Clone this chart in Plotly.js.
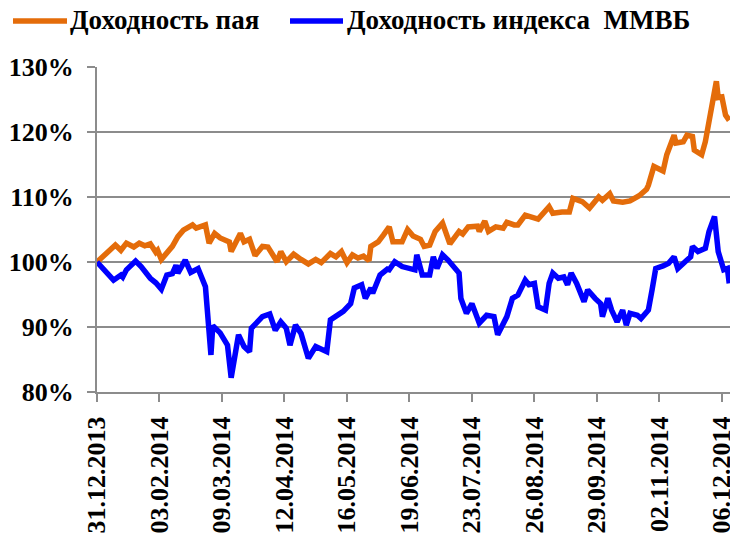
<!DOCTYPE html>
<html>
<head>
<meta charset="utf-8">
<script src="https://cdn.plot.ly/plotly-3.0.1.min.js"></script>
<style>
html,body{margin:0;padding:0;background:#fff;overflow:hidden;}
#chart{width:730px;height:537px;}
</style>
</head>
<body>
<div id="chart"></div>
<script>
// Доходность пая
const datesPai = ["2013-12-31","2014-01-06","2014-01-10","2014-01-13","2014-01-16","2014-01-20","2014-01-23","2014-01-26","2014-01-29","2014-02-01","2014-02-02","2014-02-04","2014-02-07","2014-02-10","2014-02-13","2014-02-16","2014-02-21","2014-02-23","2014-02-28","2014-03-02","2014-03-05","2014-03-08","2014-03-13","2014-03-14","2014-03-19","2014-03-21","2014-03-24","2014-03-27","2014-03-31","2014-04-03","2014-04-08","2014-04-10","2014-04-13","2014-04-17","2014-04-21","2014-04-25","2014-04-29","2014-05-02","2014-05-07","2014-05-10","2014-05-13","2014-05-16","2014-05-19","2014-05-22","2014-05-25","2014-05-28","2014-05-29","2014-06-02","2014-06-05","2014-06-08","2014-06-10","2014-06-15","2014-06-18","2014-06-21","2014-06-25","2014-06-27","2014-06-30","2014-07-03","2014-07-07","2014-07-11","2014-07-16","2014-07-18","2014-07-21","2014-07-26","2014-07-27","2014-07-30","2014-08-01","2014-08-05","2014-08-09","2014-08-11","2014-08-15","2014-08-17","2014-08-21","2014-08-25","2014-08-28","2014-09-03","2014-09-05","2014-09-10","2014-09-14","2014-09-16","2014-09-21","2014-09-25","2014-09-30","2014-10-02","2014-10-06","2014-10-08","2014-10-13","2014-10-17","2014-10-22","2014-10-26","2014-10-27","2014-10-30","2014-11-04","2014-11-06","2014-11-10","2014-11-11","2014-11-15","2014-11-17","2014-11-20","2014-11-21","2014-11-25","2014-11-27","2014-11-29","2014-12-01","2014-12-03","2014-12-04","2014-12-06","2014-12-08","2014-12-10"];
const valuesPai = [100,101.4,102.6,101.8,102.9,102.3,102.9,102.5,102.8,101.5,101.8,100.4,101.4,102.4,103.9,104.9,105.7,105.2,105.7,102.9,104.4,103.7,103.1,101.6,104.4,103.1,103.5,101.0,102.4,102.3,100.05,101.6,100.05,101.2,100.4,99.7,100.4,99.9,101.3,100.8,101.6,99.9,101.1,100.6,100.9,100.2,102.4,103.1,104.2,105.4,103.1,103.1,105.0,104.0,103.5,102.4,102.6,104.7,106.0,102.8,104.7,104.3,105.4,105.5,104.7,106.3,104.7,105.4,105.2,106.1,105.7,105.7,107.2,106.9,106.6,108.5,107.5,107.7,107.7,109.8,109.3,108.3,110.0,109.5,110.5,109.4,109.2,109.4,110.2,111.2,111.8,114.7,114.0,116.5,119.5,118.3,118.5,119.5,119.3,117.2,116.5,118.5,121.6,125.4,127.8,125.3,125.4,122.6,121.8];

// Доходность индекса ММВБ
const datesIndex = ["2013-12-31","2014-01-09","2014-01-13","2014-01-14","2014-01-16","2014-01-21","2014-01-24","2014-01-29","2014-02-01","2014-02-04","2014-02-07","2014-02-10","2014-02-12","2014-02-13","2014-02-17","2014-02-20","2014-02-24","2014-02-28","2014-03-03","2014-03-04","2014-03-08","2014-03-12","2014-03-14","2014-03-18","2014-03-21","2014-03-24","2014-03-25","2014-03-30","2014-03-31","2014-04-04","2014-04-07","2014-04-10","2014-04-13","2014-04-15","2014-04-18","2014-04-21","2014-04-25","2014-04-29","2014-05-02","2014-05-05","2014-05-07","2014-05-10","2014-05-14","2014-05-18","2014-05-20","2014-05-24","2014-05-26","2014-05-29","2014-05-30","2014-06-03","2014-06-07","2014-06-08","2014-06-11","2014-06-15","2014-06-18","2014-06-22","2014-06-23","2014-06-26","2014-06-30","2014-07-02","2014-07-04","2014-07-07","2014-07-10","2014-07-16","2014-07-17","2014-07-20","2014-07-23","2014-07-27","2014-07-31","2014-08-04","2014-08-06","2014-08-11","2014-08-14","2014-08-17","2014-08-21","2014-08-23","2014-08-26","2014-08-28","2014-09-01","2014-09-03","2014-09-05","2014-09-08","2014-09-11","2014-09-13","2014-09-15","2014-09-18","2014-09-22","2014-09-24","2014-09-28","2014-10-01","2014-10-02","2014-10-05","2014-10-07","2014-10-10","2014-10-13","2014-10-15","2014-10-17","2014-10-21","2014-10-23","2014-10-27","2014-10-29","2014-10-31","2014-11-04","2014-11-07","2014-11-10","2014-11-12","2014-11-16","2014-11-19","2014-11-20","2014-11-23","2014-11-27","2014-11-29","2014-12-02","2014-12-04","2014-12-07","2014-12-09","2014-12-10"];
const valuesIndex = [100,97.2,98.0,97.7,98.8,100.15,99.3,97.5,96.8,95.8,98.0,98.2,99.5,98.3,100.3,98.4,99.0,96.2,85.7,90.2,89.1,87.2,82.2,88.8,87.0,86.2,89.8,91.1,91.6,92.0,89.5,90.8,89.8,87.2,90.3,89.0,85.2,87.0,86.7,86.2,91.1,91.6,92.4,93.6,96.0,96.5,94.4,96.0,95.2,98.0,98.9,98.8,100.05,99.3,99.0,98.8,101.1,98.0,98.0,100.8,99.0,101.1,100.3,98.3,94.4,92.1,93.6,90.6,91.8,91.6,88.8,91.6,94.4,94.9,97.2,96.5,96.7,93.1,92.6,96.7,98.3,97.5,97.7,96.5,98.3,96.7,93.9,95.7,94.4,93.6,91.6,94.4,92.6,90.8,92.6,90.3,92.1,91.8,91.3,92.6,95.7,99.0,99.4,99.8,100.8,99.0,100.05,100.8,102.4,101.6,102.1,104.7,107.0,101.6,98.8,99.0,96.7];

const seriesNames = ["Доходность пая", "Доходность индекса  ММВБ"];
const seriesColors = ["#E46C0A", "#0000FF"];

const gridColor = "#8c8c8c";
const fontFamily = "Liberation Serif, Times New Roman, serif";

// plot area in pixels (for placing the legend in paper units)
const W = 730, H = 537, ML = 97, MR = 0, MT = 67, MB = 145;
const PW = W - ML - MR, PH = H - MT - MB;
const px = v => (v - ML) / PW;
const py = v => (H - MB - v) / PH;

const traces = [
  {x: datesPai, y: valuesPai, name: seriesNames[0], type: "scatter", mode: "lines",
   line: {color: seriesColors[0], width: 5.5}},
  {x: datesIndex, y: valuesIndex, name: seriesNames[1], type: "scatter", mode: "lines",
   line: {color: seriesColors[1], width: 5.5}}
];

// legend (drawn as shapes + annotations)
const legendItems = [
  {lineX0: 13, lineX1: 67, textX: 68},
  {lineX0: 290, lineX1: 343, textX: 345}
];
const legendLineY = 21, legendTextY = 20;

const shapes = legendItems.map((it, i) => ({
  type: "line", xref: "paper", yref: "paper",
  x0: px(it.lineX0), x1: px(it.lineX1), y0: py(legendLineY), y1: py(legendLineY),
  line: {color: seriesColors[i], width: 5.5}
}));
const annotations = legendItems.map((it, i) => ({
  xref: "paper", yref: "paper", x: px(it.textX), y: py(legendTextY),
  xanchor: "left", yanchor: "middle", showarrow: false, text: seriesNames[i],
  font: {family: fontFamily, size: 27, weight: 700, color: "#000"}
}));

const layout = {
  width: W, height: H,
  margin: {l: ML, r: MR, t: MT, b: MB, pad: 0},
  paper_bgcolor: "#fff", plot_bgcolor: "#fff",
  font: {family: fontFamily, color: "#000", size: 25, weight: 700},
  showlegend: false,
  shapes: shapes,
  annotations: annotations,
  xaxis: {
    type: "date",
    range: ["2013-12-31", "2014-12-10 10:00"],
    tick0: "2013-12-31", dtick: 34 * 86400000,
    tickformat: "%d.%m.%Y", tickangle: -90,
    ticks: "outside", ticklen: 8, tickwidth: 2, tickcolor: gridColor,
    showline: true, linecolor: gridColor, linewidth: 2,
    showgrid: false, zeroline: false,
    ticklabelstandoff: 4, ticklabeloverflow: "allow",
    tickfont: {family: fontFamily, size: 26, weight: 700, color: "#000"}
  },
  yaxis: {
    range: [80, 130], dtick: 10, tick0: 80, ticksuffix: "%",
    ticks: "outside", ticklen: 8, tickwidth: 2, tickcolor: gridColor,
    showline: true, linecolor: gridColor, linewidth: 2,
    showgrid: true, gridcolor: gridColor, gridwidth: 2, zeroline: false,
    ticklabelstandoff: 8,
    tickfont: {family: fontFamily, size: 26, weight: 700, color: "#000"}
  }
};

Plotly.newPlot("chart", traces, layout, {displayModeBar: false, staticPlot: true});
</script>
</body>
</html>
